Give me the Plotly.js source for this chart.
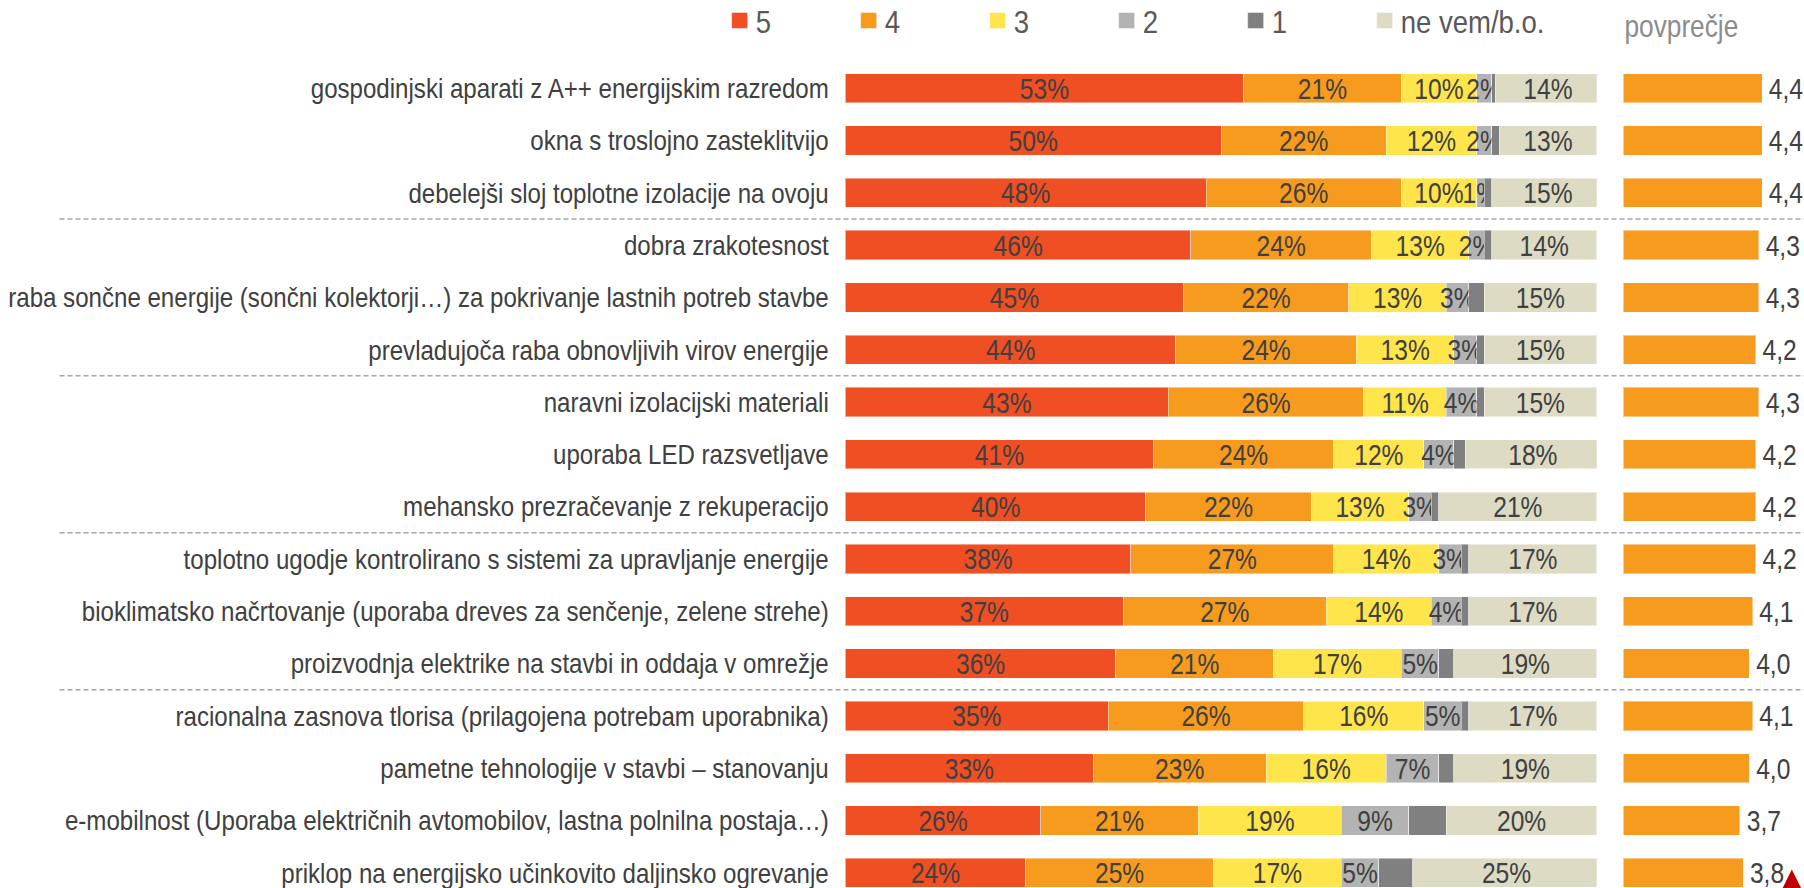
<!DOCTYPE html>
<html><head><meta charset="utf-8">
<script src="https://cdn.plot.ly/plotly-3.0.1.min.js"></script>
<style>html,body{margin:0;padding:0;background:#fff}#chart{width:1804px;height:888px}</style>
</head><body><div id="chart"></div>
<script>
const categories = [
  'gospodinjski aparati z A++ energijskim razredom',
  'okna s troslojno zasteklitvijo',
  'debelejši sloj toplotne izolacije na ovoju',
  'dobra zrakotesnost',
  'raba sončne energije (sončni kolektorji…) za pokrivanje lastnih potreb stavbe',
  'prevladujoča raba obnovljivih virov energije',
  'naravni izolacijski materiali',
  'uporaba LED razsvetljave',
  'mehansko prezračevanje z rekuperacijo',
  'toplotno ugodje kontrolirano s sistemi za upravljanje energije',
  'bioklimatsko načrtovanje (uporaba dreves za senčenje, zelene strehe)',
  'proizvodnja elektrike na stavbi in oddaja v omrežje',
  'racionalna zasnova tlorisa (prilagojena potrebam uporabnika)',
  'pametne tehnologije v stavbi – stanovanju',
  'e-mobilnost (Uporaba električnih avtomobilov, lastna polnilna postaja…)',
  'priklop na energijsko učinkovito daljinsko ogrevanje'
];
const seriesNames = ['5', '4', '3', '2', '1', 'ne vem/b.o.'];
const val5 = [53, 50, 48, 46, 45, 44, 43, 41, 40, 38, 37, 36, 35, 33, 26, 24];
const val4 = [21, 22, 26, 24, 22, 24, 26, 24, 22, 27, 27, 21, 26, 23, 21, 25];
const val3 = [10, 12, 10, 13, 13, 13, 11, 12, 13, 14, 14, 17, 16, 16, 19, 17];
const val2 = [2, 2, 1, 2, 3, 3, 4, 4, 3, 3, 4, 5, 5, 7, 9, 5];
const val1 = [0.5, 1, 1, 1, 2, 1, 1, 1.5, 1, 1, 1, 2, 1, 2, 5, 4.5];
const valNe = [14, 13, 15, 14, 15, 15, 15, 18, 21, 17, 17, 19, 17, 19, 20, 25];
const avg = [4.4, 4.4, 4.4, 4.3, 4.3, 4.2, 4.3, 4.2, 4.2, 4.2, 4.1, 4.0, 4.1, 4.0, 3.7, 3.8];
const colors = ['#F04E23', '#F79B1E', '#FFE54C', '#B3B3B3', '#808080', '#DDDBC3'];
const showLabel = [true, true, true, true, false, true];

const FONT = "'Liberation Sans', Arial, sans-serif";
const series = [val5, val4, val3, val2, val1, valNe];

const traces = series.map((vals, i) => ({
  type: 'bar', orientation: 'h',
  name: seriesNames[i],
  x: vals, y: categories,
  xaxis: 'x', yaxis: 'y',
  marker: {color: colors[i], line: {color: 'rgba(255,255,255,0.45)', width: 1}},
  text: showLabel[i] ? vals.map(v => v + '%') : vals.map(() => ''),
  textposition: 'inside', insidetextanchor: 'middle', textangle: 0,
  constraintext: 'none',
  insidetextfont: {family: FONT, size: 30, color: '#404040'},
  hoverinfo: 'x+y+name'
}));

traces.push({
  type: 'bar', orientation: 'h',
  name: 'povprečje', showlegend: false,
  x: avg, y: categories,
  xaxis: 'x2', yaxis: 'y',
  marker: {color: colors[1], line: {color: 'rgba(255,255,255,0.45)', width: 1}},
  text: avg.map(v => v.toFixed(1).replace('.', ',')),
  textposition: 'outside', textangle: 0, constraintext: 'none', cliponaxis: false,
  outsidetextfont: {family: FONT, size: 30, color: '#404040'}
});

const sepShapes = [2.5, 5.5, 8.5, 11.5].map(yv => ({
  type: 'line', xref: 'paper', yref: 'y',
  x0: 0.033, x1: 1, y0: yv, y1: yv,
  line: {color: '#a6a6a6', width: 1.5, dash: '5px,3px'}
}));

const layout = {
  width: 1804, height: 888,
  margin: {l: 0, r: 0, t: 62, b: 0, pad: 0, autoexpand: false},
  paper_bgcolor: '#ffffff', plot_bgcolor: '#ffffff',
  font: {family: FONT, color: '#404040'},
  barmode: 'stack', bargap: 0.44,
  showlegend: true,
  legend: {
    orientation: 'h', x: 0.3967, xanchor: 'left', y: 1.050, yanchor: 'middle',
    font: {family: FONT, size: 32, color: '#595959'},
    entrywidth: 84, entrywidthmode: 'pixels', itemwidth: 30,
    bgcolor: 'rgba(0,0,0,0)', traceorder: 'normal'
  },
  xaxis: {domain: [0.4686, 0.8851], range: [0, 100], visible: false, fixedrange: true},
  xaxis2: {domain: [0.8998, 1], range: [0, 5.73], visible: false, anchor: 'y', fixedrange: true},
  yaxis: {
    type: 'category', categoryorder: 'array', categoryarray: categories,
    range: [15.29, -0.5], showgrid: false, zeroline: false, showline: false,
    ticks: 'outside', ticklen: 10, tickcolor: 'rgba(0,0,0,0)',
    tickfont: {family: FONT, size: 28, color: '#404040'},
    automargin: false, fixedrange: true
  },
  shapes: sepShapes,
  annotations: [
    {text: 'povprečje', xref: 'paper', yref: 'paper', x: 0.8925, xanchor: 'left',
     y: 1.043, yanchor: 'middle', showarrow: false,
     font: {family: FONT, size: 32, color: '#8c8c8c'}},
    {text: '▲', xref: 'paper', yref: 'y', x: 0.9817, xanchor: 'left',
     y: categories[15], yanchor: 'middle', yshift: -12, showarrow: false,
     font: {family: 'DejaVu Sans, sans-serif', size: 49, color: '#C00000'}}
  ]
};

// horizontal condensing of Liberation Sans to get the Arial Narrow look of the original
function condense(gd) {
  gd.querySelectorAll('text').forEach(t => {
    const ff = (t.style.fontFamily || t.getAttribute('font-family') || '');
    if (ff.indexOf('Liberation') < 0) return;
    const len = t.getComputedTextLength();
    if (!len) return;
    let f = 0.82;
    if (t.closest('.ytick') || t.classList.contains('legendtext')) f = 0.86;
    t.setAttribute('textLength', (len * f).toFixed(2));
    t.setAttribute('lengthAdjust', 'spacingAndGlyphs');
  });
  gd.querySelectorAll('.legend [clip-path]').forEach(el => el.removeAttribute('clip-path'));
  gd.querySelectorAll('.legend .legendpoints path').forEach(p => {
    if ((p.getAttribute('d') || '').indexOf('M6,6H-6V-6H6Z') === 0) p.setAttribute('d', 'M12,8H-4V-8H12Z');
  });
}

Plotly.newPlot('chart', traces, layout, {displayModeBar: false, staticPlot: true})
  .then(gd => condense(gd));
</script>
</body></html>
